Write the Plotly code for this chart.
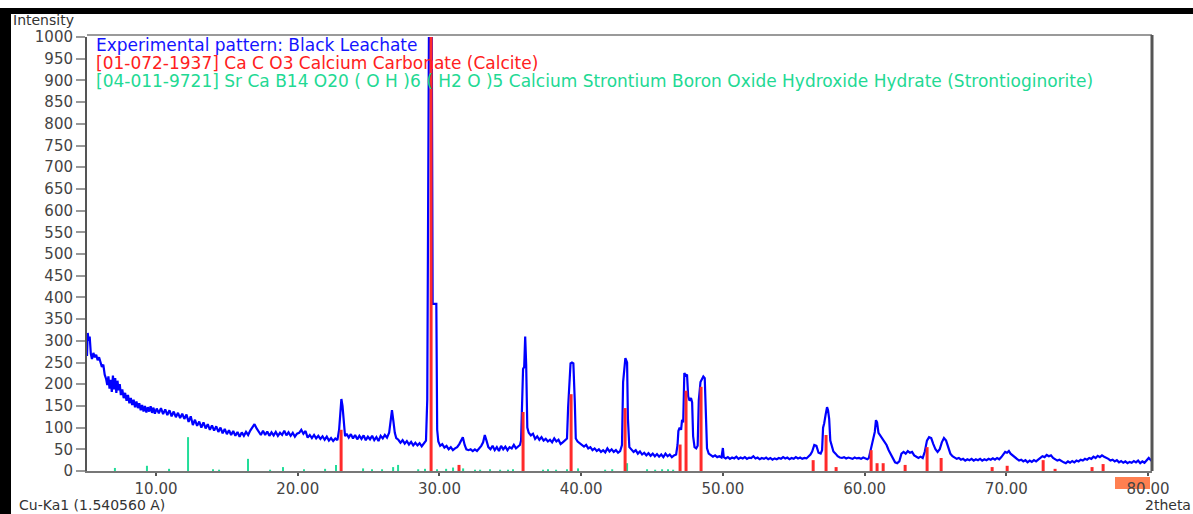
import plotly.graph_objects as go

# ---------------- data ----------------
two_theta = [
    5.13, 5.18, 5.25, 5.32, 5.40, 5.48, 5.58, 5.68, 5.78, 5.88,
    5.98, 6.08, 6.18, 6.28, 6.38, 6.48, 6.56, 6.64, 6.72, 6.80,
    6.88, 6.96, 7.04, 7.12, 7.20, 7.28, 7.36, 7.44, 7.52, 7.62,
    7.72, 7.82, 7.92, 8.02, 8.12, 8.22, 8.32, 8.42, 8.52, 8.62,
    8.72, 8.82, 8.92, 9.02, 9.12, 9.22, 9.32, 9.42, 9.52, 9.62,
    9.72, 9.82, 9.92, 10.05, 10.20, 10.35, 10.50, 10.65, 10.80, 10.95,
    11.10, 11.25, 11.40, 11.55, 11.70, 11.85, 12.00, 12.15, 12.30, 12.45,
    12.60, 12.75, 12.90, 13.05, 13.20, 13.35, 13.50, 13.65, 13.80, 13.95,
    14.10, 14.25, 14.40, 14.55, 14.70, 14.85, 15.00, 15.15, 15.30, 15.45,
    15.60, 15.75, 15.90, 16.05, 16.20, 16.35, 16.50, 16.65, 16.80, 16.95,
    17.10, 17.25, 17.40, 17.55, 17.70, 17.85, 18.00, 18.15, 18.30, 18.45,
    18.60, 18.75, 18.90, 19.05, 19.20, 19.35, 19.50, 19.65, 19.80, 19.95,
    20.10, 20.25, 20.40, 20.55, 20.70, 20.85, 21.00, 21.15, 21.30, 21.45,
    21.60, 21.75, 21.90, 22.05, 22.20, 22.35, 22.50, 22.65, 22.80, 22.92,
    23.00, 23.08, 23.16, 23.24, 23.34, 23.45, 23.60, 23.75, 23.90, 24.05,
    24.20, 24.35, 24.50, 24.65, 24.80, 24.95, 25.10, 25.25, 25.40, 25.55,
    25.70, 25.85, 26.00, 26.15, 26.30, 26.45, 26.55, 26.65, 26.75, 26.85,
    26.95, 27.10, 27.25, 27.40, 27.55, 27.70, 27.85, 28.00, 28.15, 28.30,
    28.45, 28.60, 28.75, 28.90, 29.05, 29.14, 29.20, 29.27, 29.45, 29.52,
    29.78, 29.84, 29.92, 30.05, 30.20, 30.35, 30.50, 30.65, 30.80, 30.95,
    31.10, 31.25, 31.40, 31.55, 31.65, 31.78, 31.90, 32.05, 32.20, 32.35,
    32.50, 32.65, 32.80, 32.95, 33.08, 33.20, 33.32, 33.45, 33.60, 33.75,
    33.90, 34.05, 34.20, 34.35, 34.50, 34.65, 34.80, 34.95, 35.10, 35.25,
    35.40, 35.55, 35.68, 35.76, 35.82, 35.90, 35.98, 36.05, 36.12, 36.20,
    36.30, 36.45, 36.60, 36.75, 36.90, 37.05, 37.20, 37.35, 37.50, 37.65,
    37.80, 37.95, 38.10, 38.25, 38.40, 38.55, 38.70, 38.85, 39.00, 39.08,
    39.15, 39.25, 39.35, 39.45, 39.55, 39.62, 39.75, 39.90, 40.05, 40.20,
    40.35, 40.50, 40.65, 40.80, 40.95, 41.10, 41.25, 41.40, 41.55, 41.70,
    41.85, 42.00, 42.15, 42.30, 42.45, 42.60, 42.75, 42.88, 42.96, 43.05,
    43.12, 43.24, 43.30, 43.40, 43.55, 43.70, 43.85, 44.00, 44.15, 44.30,
    44.45, 44.60, 44.75, 44.90, 45.05, 45.20, 45.35, 45.50, 45.65, 45.80,
    45.95, 46.10, 46.25, 46.40, 46.55, 46.70, 46.80, 46.86, 46.95, 47.05,
    47.12, 47.20, 47.28, 47.38, 47.47, 47.55, 47.65, 47.75, 47.83, 47.90,
    48.00, 48.12, 48.22, 48.30, 48.42, 48.52, 48.62, 48.72, 48.80, 48.88,
    49.00, 49.15, 49.30, 49.45, 49.60, 49.75, 49.90, 50.00, 50.06, 50.20,
    50.35, 50.50, 50.65, 50.80, 50.95, 51.10, 51.25, 51.40, 51.55, 51.70,
    51.85, 52.00, 52.15, 52.30, 52.45, 52.60, 52.75, 52.90, 53.05, 53.20,
    53.35, 53.50, 53.65, 53.80, 53.95, 54.10, 54.25, 54.40, 54.55, 54.70,
    54.85, 55.00, 55.15, 55.30, 55.45, 55.60, 55.75, 55.90, 56.05, 56.18,
    56.30, 56.45, 56.60, 56.75, 56.90, 57.00, 57.07, 57.15, 57.25, 57.35,
    57.42, 57.50, 57.58, 57.68, 57.80, 57.95, 58.10, 58.25, 58.40, 58.55,
    58.70, 58.85, 59.00, 59.15, 59.30, 59.45, 59.60, 59.75, 59.90, 60.05,
    60.20, 60.30, 60.40, 60.50, 60.60, 60.72, 60.80, 60.88, 60.98, 61.10,
    61.25, 61.40, 61.55, 61.70, 61.85, 62.00, 62.15, 62.30, 62.45, 62.60,
    62.75, 62.90, 63.05, 63.20, 63.35, 63.50, 63.65, 63.80, 63.95, 64.10,
    64.25, 64.40, 64.55, 64.70, 64.85, 65.00, 65.15, 65.30, 65.45, 65.60,
    65.75, 65.90, 66.05, 66.20, 66.35, 66.50, 66.65, 66.80, 66.95, 67.10,
    67.25, 67.40, 67.55, 67.70, 67.85, 68.00, 68.15, 68.30, 68.45, 68.60,
    68.75, 68.90, 69.05, 69.20, 69.35, 69.50, 69.65, 69.80, 69.92, 70.05,
    70.18, 70.30, 70.45, 70.60, 70.75, 70.90, 71.05, 71.20, 71.35, 71.50,
    71.65, 71.80, 71.95, 72.10, 72.25, 72.40, 72.55, 72.70, 72.85, 73.00,
    73.15, 73.30, 73.45, 73.60, 73.75, 73.90, 74.05, 74.20, 74.35, 74.50,
    74.65, 74.80, 74.95, 75.10, 75.25, 75.40, 75.55, 75.70, 75.85, 76.00,
    76.15, 76.30, 76.45, 76.60, 76.75, 76.90, 77.05, 77.20, 77.35, 77.50,
    77.65, 77.80, 77.95, 78.10, 78.25, 78.40, 78.55, 78.70, 78.85, 79.00,
    79.15, 79.30, 79.45, 79.60, 79.75, 79.90, 80.05, 80.20, 80.28,
]
intensity = [
    265, 318, 300, 310, 270, 258, 272, 262, 268, 255,
    262, 250, 240, 245, 222, 212, 198, 218, 190, 210,
    182, 220, 188, 214, 180, 208, 186, 200, 175, 188,
    168, 180, 162, 175, 156, 168, 152, 164, 147, 160,
    145, 156, 140, 152, 137, 150, 135, 147, 137, 149,
    134, 146, 132, 144, 133, 145, 131, 142, 129, 140,
    126, 137, 124, 134, 122, 132, 120, 130, 113, 126,
    106, 118, 104, 114, 100, 112, 98, 108, 95, 105,
    93, 103, 90, 100, 87, 97, 85, 94, 83, 92,
    81, 90, 79, 89, 81, 90, 83, 93, 102, 108,
    98, 90, 83, 93, 83, 91, 81, 89, 82, 90,
    81, 88, 83, 93, 82, 89, 81, 88, 79, 86,
    88, 95, 86, 92, 77, 83, 76, 83, 75, 81,
    74, 80, 72, 79, 70, 76, 69, 75, 71, 95,
    140, 166, 150, 110, 80, 86, 77, 85, 75, 83,
    73, 81, 74, 82, 71, 79, 73, 81, 71, 78,
    69, 81, 75, 83, 77, 88, 110, 140, 115, 88,
    76, 72, 65, 71, 63, 69, 61, 67, 59, 65,
    59, 64, 57, 63, 70, 165, 790, 1100, 1100, 385,
    385, 95, 68, 58, 62, 54, 58, 50, 55, 48,
    52, 55, 62, 72, 78, 60, 50, 48, 50, 46,
    50, 46, 52, 58, 66, 83, 70, 55, 50, 58,
    48, 55, 46, 58, 50, 56, 48, 55, 52, 60,
    52, 56, 60, 70, 175, 235, 240, 310, 245, 100,
    88, 82, 86, 74, 80, 72, 78, 70, 74, 68,
    72, 66, 75, 68, 72, 62, 66, 70, 75, 147,
    200, 248, 250, 248, 160, 75, 68, 64, 60, 56,
    60, 52, 55, 48, 52, 46, 50, 44, 48, 43,
    52, 45, 50, 44, 48, 42, 46, 60, 205, 240,
    260, 250, 120, 55, 48, 44, 48, 40, 45, 38,
    42, 36, 41, 35, 40, 34, 39, 33, 38, 32,
    40, 34, 38, 32, 36, 38, 60, 92, 100, 95,
    118, 112, 226, 220, 222, 172, 162, 168, 158, 80,
    55, 52, 58, 163, 205, 212, 218, 214, 100, 52,
    40, 36, 33, 36, 32, 34, 31, 53, 32, 29,
    32, 28, 31, 29, 33, 28, 31, 29, 32, 28,
    31, 30, 34, 29, 31, 27, 30, 28, 31, 27,
    30, 26, 29, 27, 30, 28, 32, 29, 31, 27,
    30, 28, 32, 29, 31, 28, 30, 29, 33, 38,
    45, 60, 58, 42, 40, 48, 100, 110, 130, 147,
    140, 120, 70, 55, 45, 40, 34, 31, 30, 32,
    29, 31, 30, 28, 31, 29, 30, 28, 31, 29,
    27, 30, 45, 62, 75, 90, 117, 112, 88, 82,
    76, 68, 60, 48, 38, 28, 20, 18, 22, 40,
    44, 40, 46, 42, 44, 36, 32, 30, 33, 30,
    45, 70, 78, 76, 62, 50, 44, 50, 66, 76,
    70, 52, 40, 34, 30, 28, 30, 26, 28, 24,
    27, 25, 28, 24, 27, 25, 28, 24, 27, 25,
    28, 26, 29, 26, 30, 27, 32, 38, 44, 42,
    46, 40, 36, 30, 27, 24, 26, 22, 25, 20,
    24, 21, 25, 22, 26, 30, 34, 32, 37, 34,
    36, 30, 27, 24, 26, 22, 20, 18, 22, 19,
    23, 20, 24, 22, 26, 24, 28, 26, 30, 28,
    33, 30, 35, 32, 36, 33, 31, 28, 24, 26,
    22, 25, 20, 23, 19, 22, 18, 21, 19, 23,
    20, 24, 18, 22, 19, 25, 30, 25, 28,
]

calcite_pos = [23.06, 29.41, 31.38, 35.90, 39.29, 43.10, 46.98, 47.40, 48.46,
               56.37, 57.28, 57.99, 60.46, 60.88, 61.31, 62.86, 64.41, 65.40,
               69.00, 70.06, 72.60, 73.44, 76.05, 76.83]
calcite_int = [95, 1000, 14, 136, 177, 145, 61, 185, 194,
               25, 83, 9, 48, 18, 18, 14, 55, 30,
               9, 12, 25, 5, 9, 16]

strontio_pos = [7.10, 9.36, 10.92, 12.26, 14.02, 14.45, 16.49, 18.05, 18.96, 20.44,
                21.93, 22.70, 24.61, 25.24, 25.95, 26.73, 27.08, 28.50, 28.98, 29.83,
                30.47, 30.96, 31.67, 32.51, 32.87, 33.57, 34.28, 34.84, 35.19, 37.31,
                37.66, 38.23, 39.00, 39.78, 41.69, 42.19, 43.24, 44.65, 45.22, 45.71,
                46.13, 46.49]
strontio_int = [7, 12, 5, 78, 4, 3, 28, 3, 9, 4,
                5, 14, 6, 4, 4, 9, 14, 4, 5, 4,
                5, 8, 6, 3, 3, 4, 3, 3, 4, 3,
                4, 3, 4, 6, 3, 4, 18, 4, 3, 4,
                4, 3]

x_tick_vals = [10, 20, 30, 40, 50, 60, 70, 80]
x_tick_text = ["10.00", "20.00", "30.00", "40.00", "50.00", "60.00", "70.00", "80.00"]
y_tick_vals = list(range(0, 1001, 50))

legend_lines = [
    ("Experimental pattern: Black Leachate", "#1414FF"),
    ("[01-072-1937] Ca C O3 Calcium Carbonate (Calcite)", "#FF2020"),
    ("[04-011-9721] Sr Ca B14 O20 ( O H )6 ( H2 O )5 Calcium Strontium Boron Oxide "
     "Hydroxide Hydrate (Strontioginorite)", "#22D993"),
]
y_title = "Intensity"
x_title = "2theta"
source_text = "Cu-Ka1 (1.540560 A)"

assert len(two_theta) == len(intensity)

# ---------------- geometry helpers ----------------
W, H = 1193, 514
ML, MR, MT, MB = 87, 41, 37, 43
PW, PH = W - ML - MR, H - MT - MB


def px(xp):
    return (xp - ML) / PW


def py(yp):
    return (H - MB - yp) / PH


def sticks(pos, vals):
    xs, ys = [], []
    for p, v in zip(pos, vals):
        xs += [p, p, None]
        ys += [0, v, None]
    return xs, ys


FONT = "DejaVu Sans"

fig = go.Figure()
fig.add_trace(go.Scatter(x=two_theta, y=intensity, mode="lines",
                         line=dict(color="#0000FF", width=2.2), hoverinfo="skip"))
sx, sy = sticks(strontio_pos, strontio_int)
fig.add_trace(go.Scatter(x=sx, y=sy, mode="lines",
                         line=dict(color="#22DD99", width=2), hoverinfo="skip"))
cx, cy = sticks(calcite_pos, calcite_int)
fig.add_trace(go.Scatter(x=cx, y=cy, mode="lines",
                         line=dict(color="#FF2A2A", width=3), hoverinfo="skip"))

annotations = []
for i, (txt, col) in enumerate(legend_lines):
    annotations.append(dict(xref="paper", yref="paper", x=px(94), y=py(45 + 18 * i),
                            xanchor="left", yanchor="middle", showarrow=False,
                            text=txt, font=dict(family=FONT, size=17, color=col)))
annotations.append(dict(xref="paper", yref="paper", x=px(12), y=py(20.5), xanchor="left",
                        yanchor="middle", showarrow=False, text=y_title, borderpad=0,
                        font=dict(family=FONT, size=14, color="#333333")))
annotations.append(dict(xref="paper", yref="paper", x=px(18), y=py(514), xanchor="left",
                        yanchor="bottom", showarrow=False, text=source_text, borderpad=0,
                        font=dict(family=FONT, size=14, color="#333333")))
annotations.append(dict(xref="paper", yref="paper", x=px(1192), y=py(514), xanchor="right",
                        yanchor="bottom", showarrow=False, text=x_title, borderpad=0,
                        font=dict(family=FONT, size=14, color="#333333")))

shapes = [
    # plot frame top and right
    dict(type="line", xref="paper", yref="paper", x0=0, x1=1, y0=py(35), y1=py(35),
         line=dict(color="#9a9a9a", width=2)),
    dict(type="line", xref="paper", yref="paper", x0=px(1152), x1=px(1152), y0=0, y1=py(35),
         line=dict(color="#555555", width=3)),
    # black border bars of the screenshot
    dict(type="rect", xref="paper", yref="paper", x0=px(0), x1=px(1193), y0=py(14), y1=py(8),
         fillcolor="black", line=dict(width=0)),
    dict(type="rect", xref="paper", yref="paper", x0=px(0), x1=px(11), y0=py(514), y1=py(8),
         fillcolor="black", line=dict(width=0)),
    # orange highlight behind last x tick label
    dict(type="rect", xref="paper", yref="paper", x0=px(1115), x1=px(1150), y0=py(489), y1=py(477),
         fillcolor="#FF7F50", line=dict(width=0), layer="below"),
]

fig.update_layout(
    width=W, height=H,
    margin=dict(l=ML, r=MR, t=MT, b=MB, pad=0),
    paper_bgcolor="white", plot_bgcolor="white",
    showlegend=False,
    annotations=annotations, shapes=shapes,
    xaxis=dict(range=[5.13, 80.28], tickvals=x_tick_vals, ticktext=x_tick_text,
               ticks="outside", ticklen=3, tickwidth=2, tickcolor="#555555",
               showline=True, linecolor="#777777", linewidth=2,
               showgrid=False, zeroline=False,
               tickfont=dict(family=FONT, size=15, color="#444444")),
    yaxis=dict(range=[0, 1000], tickvals=y_tick_vals,
               ticks="outside", ticklen=9, tickwidth=2, tickcolor="#999999",
               showline=True, linecolor="#555555", linewidth=2,
               showgrid=False, zeroline=False,
               tickfont=dict(family=FONT, size=15, color="#444444")),
)

fig.write_html("out.html")
